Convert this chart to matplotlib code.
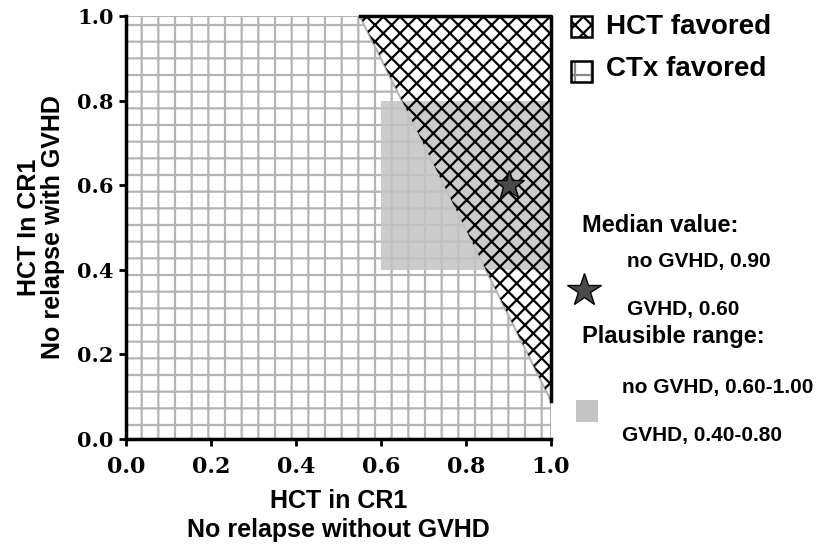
import matplotlib
matplotlib.use("Agg")
import matplotlib.pyplot as plt
from matplotlib.patches import Polygon, Rectangle
from matplotlib.lines import Line2D

# decision boundary between the two regions (x = no GVHD, y = with GVHD)
boundary_x = [0.55, 1.00]
boundary_y = [1.00, 0.09]

# plausible range box and median value
range_x = [0.60, 1.00]
range_y = [0.40, 0.80]
median_x = 0.90
median_y = 0.60

ticks = [0.0, 0.2, 0.4, 0.6, 0.8, 1.0]
tick_labels = ["0.0", "0.2", "0.4", "0.6", "0.8", "1.0"]

region_labels = ["HCT favored", "CTx favored"]
median_lines = ["no GVHD, 0.90", "GVHD, 0.60"]
range_lines = ["no GVHD, 0.60-1.00", "GVHD, 0.40-0.80"]

W, H = 838, 553
grid_gray = "#b4b4b4"
range_gray = "#c4c4c4"
sans = "Liberation Sans"
serif = "DejaVu Serif"

plt.rcParams["hatch.linewidth"] = 1.6

fig = plt.figure(figsize=(W / 100, H / 100), dpi=100)
ax = fig.add_axes([126 / W, 1 - 439 / H, 425 / W, 423 / H])

ctx_verts = [(0, 0), (0, 1), (boundary_x[0], boundary_y[0]),
             (boundary_x[1], boundary_y[1]), (1, 0)]
hct_verts = [(boundary_x[0], boundary_y[0]), (1, 1),
             (boundary_x[1], boundary_y[1])]

ax.add_patch(Polygon(ctx_verts, closed=True, facecolor="white",
                     edgecolor=grid_gray, hatch="+", lw=1.5, zorder=1))
ax.add_patch(Rectangle((range_x[0], range_y[0]), range_x[1] - range_x[0],
                       range_y[1] - range_y[0], facecolor=range_gray,
                       edgecolor="none", alpha=0.85, zorder=2))
ax.add_patch(Polygon(hct_verts, closed=True, facecolor="none",
                     edgecolor="black", hatch="xx", lw=0, zorder=3))
ax.plot([boundary_x[0], 1, 1], [1, 1, boundary_y[1]], color="black",
        lw=2.5, clip_on=False, zorder=4)
ax.plot([median_x], [median_y], marker="*", ms=22, mfc="#4a4a4a",
        mec="black", mew=1, zorder=5)

ax.set_xlim(0, 1)
ax.set_ylim(0, 1)
for s in ["top", "right"]:
    ax.spines[s].set_visible(False)
for s in ["left", "bottom"]:
    ax.spines[s].set_linewidth(2.5)
    ax.spines[s].set_zorder(6)

ax.set_xticks(ticks)
ax.set_yticks(ticks)
ax.set_xticklabels(tick_labels, family=serif, weight="bold", fontsize=16)
ax.set_yticklabels(tick_labels, family=serif, weight="bold", fontsize=15)
ax.tick_params(axis="x", length=5, width=2, pad=7)
ax.tick_params(axis="y", length=5, width=2, pad=4)

ax.set_xlabel("HCT in CR1\nNo relapse without GVHD", family=sans,
              weight="bold", fontsize=18, linespacing=1.3, labelpad=8)
ax.set_ylabel("HCT In CR1\nNo relapse with GVHD", family=sans,
              weight="bold", fontsize=18, linespacing=0.95, labelpad=9)


def fx(px):
    return px / W


def fy(py):
    return 1 - py / H


def legend_box(py, hatch, hatch_color):
    # hatched swatch, then a black frame on top
    fig.patches.append(Rectangle((fx(571), fy(py)), 21 / W, 21 / H,
                                 transform=fig.transFigure, facecolor="white",
                                 edgecolor=hatch_color, hatch=hatch, lw=0))
    fig.patches.append(Rectangle((fx(571), fy(py)), 21 / W, 21 / H,
                                 transform=fig.transFigure, facecolor="none",
                                 edgecolor="black", lw=1.8))


legend_box(37, "xx", "black")
legend_box(82, "+", "#888888")
for lab, py in zip(region_labels, [27, 69]):
    fig.text(fx(606), fy(py), lab, family=sans, weight="bold", fontsize=20,
             va="center", ha="left")

fig.text(fx(582), fy(226), "Median value:", family=sans, weight="bold",
         fontsize=17, va="center")
fig.text(fx(627), fy(262), median_lines[0], family=sans, weight="bold",
         fontsize=15, va="center")
fig.text(fx(627), fy(309), median_lines[1], family=sans, weight="bold",
         fontsize=15, va="center")
fig.add_artist(Line2D([fx(584)], [fy(290)], marker="*", ms=25,
                      mfc="#4a4a4a", mec="black", mew=1,
                      transform=fig.transFigure))

fig.text(fx(582), fy(336), "Plausible range:", family=sans, weight="bold",
         fontsize=17, va="center")
fig.text(fx(622), fy(387), range_lines[0], family=sans, weight="bold",
         fontsize=15, va="center")
fig.text(fx(622), fy(435), range_lines[1], family=sans, weight="bold",
         fontsize=15, va="center")
fig.patches.append(Rectangle((fx(576), fy(422)), 22 / W, 22 / H,
                             transform=fig.transFigure, facecolor=range_gray,
                             edgecolor="none"))

fig.savefig("out.png", dpi=100)
